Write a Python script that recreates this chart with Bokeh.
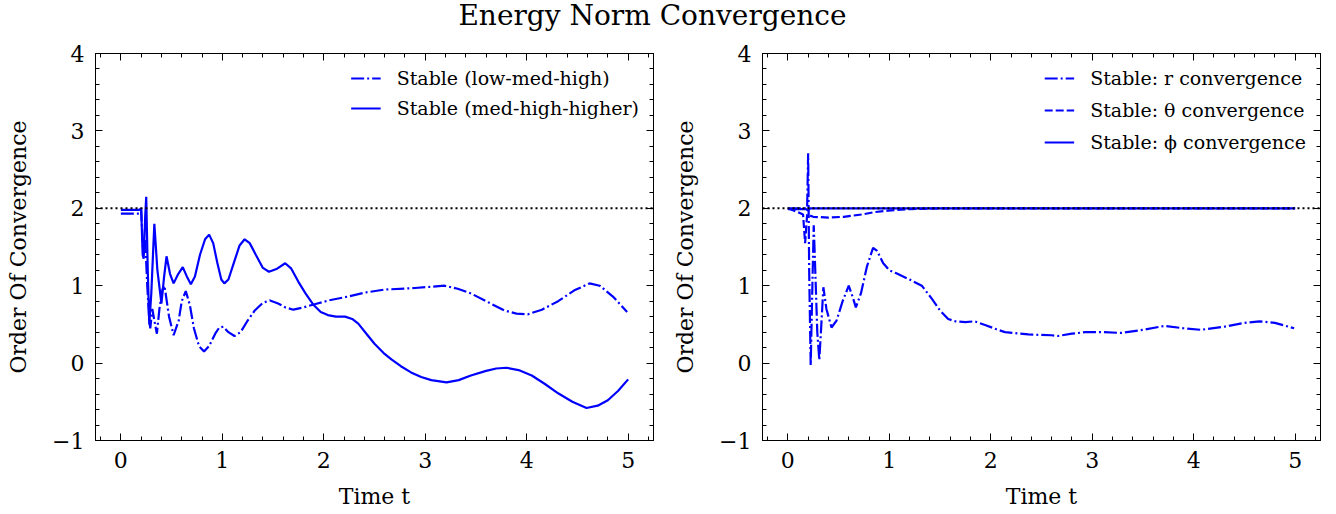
from bokeh.plotting import figure
from bokeh.models import (Range1d, FixedTicker, LinearAxis, Span, Legend, LegendItem, Label,
                          CustomJSTickFormatter)
from bokeh.layouts import column, row
from bokeh.embed import file_html
from bokeh.resources import INLINE

TITLE = "Energy Norm Convergence"
X_LABEL = "Time t"
Y_LABEL = "Order Of Convergence"
X_TICKS = [0, 1, 2, 3, 4, 5]
Y_TICKS = [-1, 0, 1, 2, 3, 4]
REF_ORDER = 2.0

# Left panel: Stable (low-med-high), dash-dot
left_lmh_t = [0.00, 0.18, 0.20, 0.22, 0.24, 0.26, 0.28, 0.29, 0.31, 0.33, 0.355, 0.38, 0.41, 0.43,
              0.475, 0.52, 0.57, 0.60, 0.64, 0.68, 0.72, 0.77, 0.82, 0.87, 0.93, 0.97, 1.01, 1.06,
              1.12, 1.18, 1.25, 1.32, 1.40, 1.47, 1.55, 1.62, 1.70, 1.80, 1.91, 2.05, 2.24, 2.40,
              2.60, 2.90, 3.19, 3.32, 3.45, 3.60, 3.78, 3.90, 4.01, 4.15, 4.31, 4.47, 4.62, 4.72,
              4.85, 4.99]
left_lmh_y = [1.93, 1.93, 1.98, 1.40, 1.60, 1.00, 0.55, 0.45, 0.70, 0.55, 0.38, 0.70, 0.95, 1.00,
              0.60, 0.36, 0.55, 0.80, 0.93, 0.75, 0.45, 0.22, 0.15, 0.22, 0.38, 0.46, 0.47, 0.40,
              0.35, 0.40, 0.55, 0.68, 0.78, 0.81, 0.77, 0.72, 0.69, 0.72, 0.76, 0.81, 0.86, 0.91,
              0.95, 0.97, 1.00, 0.96, 0.90, 0.80, 0.68, 0.64, 0.63, 0.69, 0.80, 0.94, 1.03, 1.00,
              0.86, 0.66]

# Left panel: Stable (med-high-higher), solid
left_mhh_t = [0.00, 0.18, 0.20, 0.215, 0.225, 0.24, 0.25, 0.265, 0.28, 0.30, 0.33, 0.36, 0.40,
              0.425, 0.45, 0.485, 0.52, 0.565, 0.61, 0.65, 0.69, 0.73, 0.78, 0.83, 0.87, 0.91,
              0.95, 0.99, 1.02, 1.06, 1.12, 1.17, 1.22, 1.27, 1.33, 1.40, 1.46, 1.54, 1.62, 1.68,
              1.75, 1.82, 1.90, 1.97, 2.04, 2.12, 2.21, 2.28, 2.34, 2.42, 2.50, 2.59, 2.67, 2.76,
              2.86, 2.96, 3.06, 3.21, 3.33, 3.45, 3.60, 3.70, 3.80, 3.92, 4.05, 4.18, 4.31, 4.45,
              4.59, 4.70, 4.80, 4.90, 5.00]
left_mhh_y = [1.98, 1.98, 2.00, 1.40, 1.35, 1.90, 2.15, 1.20, 0.50, 0.90, 1.80, 1.20, 0.77,
              1.10, 1.38, 1.15, 1.03, 1.15, 1.24, 1.12, 1.02, 1.12, 1.40, 1.60, 1.66, 1.55,
              1.30, 1.08, 1.03, 1.08, 1.32, 1.52, 1.60, 1.55, 1.40, 1.23, 1.18, 1.22, 1.29, 1.22,
              1.05, 0.90, 0.75, 0.66, 0.62, 0.60, 0.60, 0.57, 0.51, 0.38, 0.25, 0.13, 0.045, -0.04,
              -0.12, -0.18, -0.22, -0.25, -0.22, -0.16, -0.10, -0.07, -0.06, -0.09, -0.16, -0.27, -0.39, -0.50,
              -0.58, -0.55, -0.48, -0.36, -0.21]

# Right panel: r convergence, dash-dot
right_r_t = [0.00, 0.17, 0.19, 0.20, 0.21, 0.225, 0.24, 0.255, 0.27, 0.29, 0.31, 0.33, 0.35, 0.38,
             0.43, 0.48, 0.54, 0.60, 0.64, 0.67, 0.72, 0.78, 0.84, 0.88, 0.94, 1.00, 1.07, 1.20,
             1.32, 1.42, 1.50, 1.58, 1.65, 1.75, 1.84, 1.95, 2.05, 2.14, 2.37, 2.60, 2.66, 2.80,
             2.93, 3.10, 3.29, 3.50, 3.71, 3.90, 4.07, 4.30, 4.50, 4.65, 4.80, 4.99]
right_r_y = [2.00, 2.00, 2.00, 2.71, 1.20, -0.03, 0.90, 1.78, 1.20, 0.40, 0.04, 0.50, 0.98, 0.70,
             0.46, 0.55, 0.80, 1.00, 0.85, 0.72, 0.90, 1.25, 1.49, 1.45, 1.29, 1.20, 1.16, 1.08,
             1.00, 0.83, 0.68, 0.57, 0.54, 0.53, 0.54, 0.49, 0.44, 0.40, 0.37, 0.36, 0.35, 0.38,
             0.40, 0.40, 0.39, 0.43, 0.48, 0.45, 0.43, 0.47, 0.52, 0.54, 0.52, 0.45]

# Right panel: theta convergence, dashed
right_theta_t = [0.00, 0.10, 0.15, 0.17, 0.19, 0.25, 0.40, 0.55, 0.73, 0.85, 0.99, 1.20, 1.50, 5.00]
right_theta_y = [2.00, 1.95, 1.92, 1.55, 1.92, 1.89, 1.88, 1.89, 1.92, 1.95, 1.97, 1.99, 2.00, 2.00]

# Right panel: phi convergence, solid
right_phi_t = [0.00, 0.18, 0.20, 0.22, 1.00, 5.00]
right_phi_y = [1.99, 1.99, 1.97, 2.00, 2.00, 2.00]

FONT = "DejaVu Serif"
BLUE = "#0000ff"
BLANK = CustomJSTickFormatter(code="return ''")


def style_axis(ax, ticks, minor, labels=True):
    ax.ticker = FixedTicker(ticks=ticks, minor_ticks=minor)
    ax.major_tick_in = 7
    ax.major_tick_out = 0
    ax.minor_tick_in = 4
    ax.minor_tick_out = 0
    ax.axis_line_color = "black"
    ax.major_tick_line_color = "black"
    ax.minor_tick_line_color = "black"
    if labels:
        ax.major_label_text_font = FONT
        ax.major_label_text_font_size = "22px"
        ax.major_label_text_color = "black"
        ax.major_label_standoff = 11
        ax.axis_label_text_font = FONT
        ax.axis_label_text_font_size = "22px"
        ax.axis_label_text_font_style = "normal"
        ax.axis_label_text_color = "black"
        ax.major_label_overrides = {-1: "\u22121"}
    else:
        ax.formatter = BLANK
        ax.major_label_text_color = None
        ax.major_label_text_alpha = 0
        ax.major_label_text_font_size = "1px"
        ax.major_label_standoff = 0


def make_fig(border_left, border_right):
    p = figure(width=668, height=474, x_range=Range1d(-0.25, 5.25), y_range=Range1d(-1, 4),
               output_backend="svg", toolbar_location=None,
               min_border_left=border_left, min_border_right=border_right,
               min_border_top=13, min_border_bottom=74)
    p.xgrid.visible = False
    p.ygrid.visible = False
    p.outline_line_color = "black"
    p.outline_line_width = 1
    xminor = [round(-0.2 + 0.2 * i, 2) for i in range(28)]
    yminor = [round(-1 + 0.2 * i, 2) for i in range(26)]
    style_axis(p.xaxis[0], X_TICKS, xminor)
    style_axis(p.yaxis[0], Y_TICKS, yminor)
    p.xaxis[0].axis_label = X_LABEL
    p.xaxis[0].axis_label_standoff = 13
    p.yaxis[0].axis_label = Y_LABEL
    p.yaxis[0].axis_label_standoff = 18
    top = LinearAxis()
    style_axis(top, X_TICKS, xminor, labels=False)
    p.add_layout(top, "above")
    right = LinearAxis()
    style_axis(right, Y_TICKS, yminor, labels=False)
    p.add_layout(right, "right")
    return p


def make_legend(items, spacing):
    return Legend(items=items, location="top_right", border_line_alpha=0,
                  background_fill_alpha=0, label_text_font=FONT, label_text_font_size="19px",
                  label_text_color="black",
                  glyph_width=30, glyph_height=20, label_height=20, label_standoff=16,
                  spacing=spacing, padding=4, margin=10)


DASHDOT = "13 3 2 3"
DASHED = "8 3"
DOTTED = "2 3"
LW = 2.2

# Title strip
p0 = figure(width=1336, height=40, x_range=Range1d(0, 1336), y_range=Range1d(0, 40),
            output_backend="svg", toolbar_location=None, min_border=0,
            x_axis_location=None, y_axis_location=None, outline_line_color=None)
p0.grid.visible = False
p0.add_layout(Label(x=652, y=25, text=TITLE, text_align="center", text_baseline="middle",
                    text_font=FONT, text_font_size="28px", text_color="black"))

# Left panel
p1 = make_fig(95, 15)
r1 = p1.line(left_lmh_t, left_lmh_y, line_color=BLUE, line_width=LW, line_dash=DASHDOT)
r2 = p1.line(left_mhh_t, left_mhh_y, line_color=BLUE, line_width=LW)
p1.add_layout(Span(location=REF_ORDER, dimension="width", line_color="black",
                   line_width=2, line_dash=DOTTED))
p1.add_layout(make_legend([LegendItem(label="Stable (low-med-high)", renderers=[r1]),
                           LegendItem(label="Stable (med-high-higher)", renderers=[r2])], 8))

# Right panel
p2 = make_fig(94, 16)
q1 = p2.line(right_r_t, right_r_y, line_color=BLUE, line_width=LW, line_dash=DASHDOT)
q2 = p2.line(right_theta_t, right_theta_y, line_color=BLUE, line_width=LW, line_dash=DASHED)
q3 = p2.line(right_phi_t, right_phi_y, line_color=BLUE, line_width=LW)
p2.add_layout(Span(location=REF_ORDER, dimension="width", line_color="black",
                   line_width=2, line_dash=DOTTED))
p2.add_layout(make_legend([LegendItem(label="Stable: r convergence", renderers=[q1]),
                           LegendItem(label="Stable: \u03b8 convergence", renderers=[q2]),
                           LegendItem(label="Stable: \u03d5 convergence", renderers=[q3])], 10))

layout = column(p0, row(p1, p2))
open("out.html", "w").write(file_html(layout, INLINE))
